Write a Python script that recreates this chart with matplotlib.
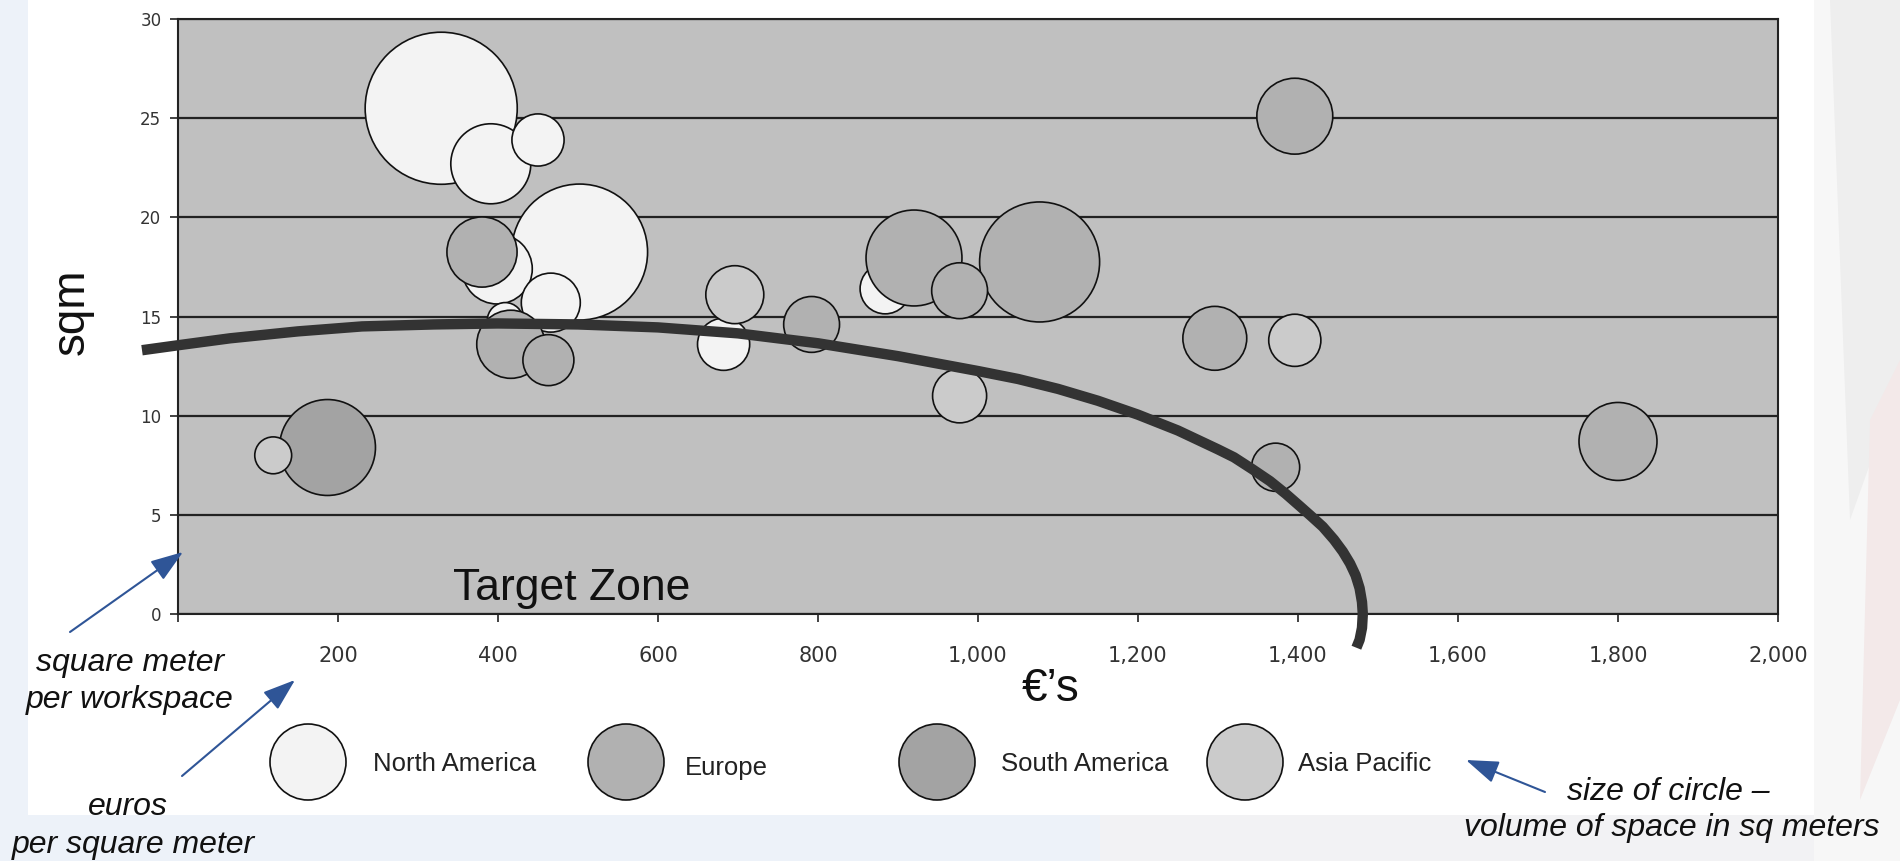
import matplotlib
matplotlib.use("Agg")
import matplotlib.pyplot as plt
import numpy as np
from matplotlib.patches import Circle, Rectangle, Polygon

plt.rcParams["font.family"] = ["Liberation Sans", "DejaVu Sans"]

# euros per square meter (x), square meter per workspace (y), volume of space (bubble size)
na_x = [329, 391, 450, 502, 399, 466, 409, 682, 884]
na_y = [25.5, 22.7, 23.9, 18.25, 17.4, 15.7, 14.8, 13.6, 16.4]
na_vol = [57.8, 16.0, 6.8, 46.2, 12.3, 8.7, 3.2, 6.8, 6.3]

eu_x = [380, 416, 463, 792, 920, 977, 1077, 1296, 1396, 1800, 1372]
eu_y = [18.25, 13.6, 12.8, 14.6, 17.95, 16.3, 17.75, 13.9, 25.1, 8.7, 7.4]
eu_vol = [12.3, 11.6, 6.5, 7.8, 23.0, 7.8, 36.0, 10.2, 14.4, 15.2, 5.8]

sa_x = [186]
sa_y = [8.4]
sa_vol = [23.0]

ap_x = [119, 696, 977, 1396]
ap_y = [8.0, 16.1, 11.0, 13.8]
ap_vol = [3.4, 8.4, 7.3, 6.8]

regions = ["North America", "Europe", "South America", "Asia Pacific"]

# hand-drawn "target zone" boundary
curve_x = [-45, 0, 65, 150, 230, 320, 400, 500, 600, 700, 800, 900, 1000, 1050, 1100,
           1150, 1200, 1250, 1300, 1320, 1343, 1365, 1385, 1402, 1416, 1431, 1445, 1456,
           1465, 1472, 1477, 1480, 1481, 1480, 1477, 1473]
curve_y = [13.3, 13.55, 13.9, 14.25, 14.5, 14.6, 14.65, 14.6, 14.45, 14.15, 13.65, 13.0,
           12.25, 11.85, 11.35, 10.75, 10.05, 9.25, 8.3, 7.9, 7.3, 6.7, 6.05, 5.45, 4.95,
           4.4, 3.75, 3.15, 2.55, 1.95, 1.3, 0.6, 0.0, -0.7, -1.3, -1.7]

x_ticks = list(range(0, 2001, 200))
y_ticks = list(range(0, 31, 5))

W, H = 1900, 861
SIZE_SCALE = 207.4  # volume -> marker area (pt^2)
colors = {"North America": "#f3f3f3", "Europe": "#b1b1b1",
          "South America": "#a3a3a3", "Asia Pacific": "#cbcbcb"}
navy = "#2f5597"

fig = plt.figure(figsize=(W / 100, H / 100), dpi=100)
fig.patch.set_facecolor("#edf2f9")

# page background
bg = fig.add_axes([0, 0, 1, 1], zorder=-5)
bg.set_xlim(0, W)
bg.set_ylim(H, 0)
bg.axis("off")
bg.add_patch(Rectangle((1814, 0), 86, 861, fc="#f7f7f7", ec="none"))
bg.add_patch(Polygon([[1830, 0], [1900, 0], [1900, 380], [1850, 520]], fc="#eeeeee", ec="none"))
bg.add_patch(Polygon([[1870, 420], [1900, 360], [1900, 700], [1860, 800]], fc="#f3e9e9", ec="none"))
bg.add_patch(Rectangle((1100, 815), 714, 46, fc="#f2f2f4", ec="none"))
bg.add_patch(Rectangle((28, 0), 1786, 815, fc="white", ec="none"))

# main chart
ax = fig.add_axes([178 / W, 1 - 614 / H, 1600 / W, 595 / H])
ax.set_facecolor("#c0c0c0")
ax.set_xlim(0, 2000)
ax.set_ylim(0, 30)
ax.set_xticks(x_ticks)
ax.set_xticklabels(["" if v == 0 else f"{v:,}" for v in x_ticks],
                   fontsize=15, family="DejaVu Sans", color="#333333")
ax.set_yticks(y_ticks)
ax.set_yticklabels([str(v) for v in y_ticks], fontsize=12, family="DejaVu Sans", color="#333333")
ax.tick_params(axis="x", length=6, width=1.2, pad=17, color="#222222")
ax.tick_params(axis="y", length=6, width=1.2, pad=6, color="#222222")
ax.yaxis.grid(True, color="#222222", lw=1.6)
ax.set_axisbelow(True)
for sp in ax.spines.values():
    sp.set_color("#222222")
    sp.set_linewidth(1.5)

series = [(na_x, na_y, na_vol), (eu_x, eu_y, eu_vol), (sa_x, sa_y, sa_vol), (ap_x, ap_y, ap_vol)]
for i, (name, (xs, ys, vs)) in enumerate(zip(regions, series)):
    xs, ys, vs = np.array(xs), np.array(ys), np.array(vs)
    order = np.argsort(-vs)  # big bubbles behind small ones
    ax.scatter(xs[order], ys[order], s=vs[order] * SIZE_SCALE, color=colors[name],
               edgecolors="#111111", linewidths=1.2, zorder=3 + i)

ax.plot(curve_x, curve_y, color="#333333", lw=7.5, solid_capstyle="butt",
        solid_joinstyle="round", clip_on=False, zorder=10)
ax.text(344, 0.7, "Target Zone", fontsize=32, color="#111111", ha="left", va="baseline", zorder=11)

# overlay in pixel coordinates: axis titles, legend, notes
ov = fig.add_axes([0, 0, 1, 1], zorder=20)
ov.set_xlim(0, W)
ov.set_ylim(H, 0)
ov.axis("off")
ov.patch.set_alpha(0)

ov.text(72, 312, "sqm", rotation=90, fontsize=33, ha="center", va="center", color="#111111")
ov.text(1051, 689, "€’s", fontsize=33, ha="center", va="center", color="#111111")

leg_circles = [308, 626, 937, 1245]
leg_text = [(373, 764), (685, 768), (1001, 764), (1298, 764)]
for name, cx, (tx, ty) in zip(regions, leg_circles, leg_text):
    ov.add_patch(Circle((cx, 762), 38, fc=colors[name], ec="#111111", lw=1.2))
    ov.text(tx, ty, name, fontsize=18.5, ha="left", va="center", color="#222222")

note = dict(fontsize=23, style="italic", ha="center", va="center", color="#111111")
ov.text(130, 663, "square meter", **note)
ov.text(130, 700, "per workspace", **note)
ov.text(128, 807, "euros", **note)
ov.text(133, 845, "per square meter", **note)
ov.text(1668, 792, "size of circle –", **note)
ov.text(1672, 828, "volume of space in sq meters", **note)

arrow = dict(arrowstyle="-|>,head_length=1.0,head_width=0.35", color=navy, lw=1.5,
             mutation_scale=20, shrinkA=0, shrinkB=0)
ov.annotate("", xy=(183, 552), xytext=(70, 632), arrowprops=arrow)
ov.annotate("", xy=(295, 680), xytext=(182, 776), arrowprops=arrow)
ov.annotate("", xy=(1466, 760), xytext=(1545, 792), arrowprops=arrow)

fig.savefig("out.png", dpi=100, facecolor=fig.get_facecolor())
